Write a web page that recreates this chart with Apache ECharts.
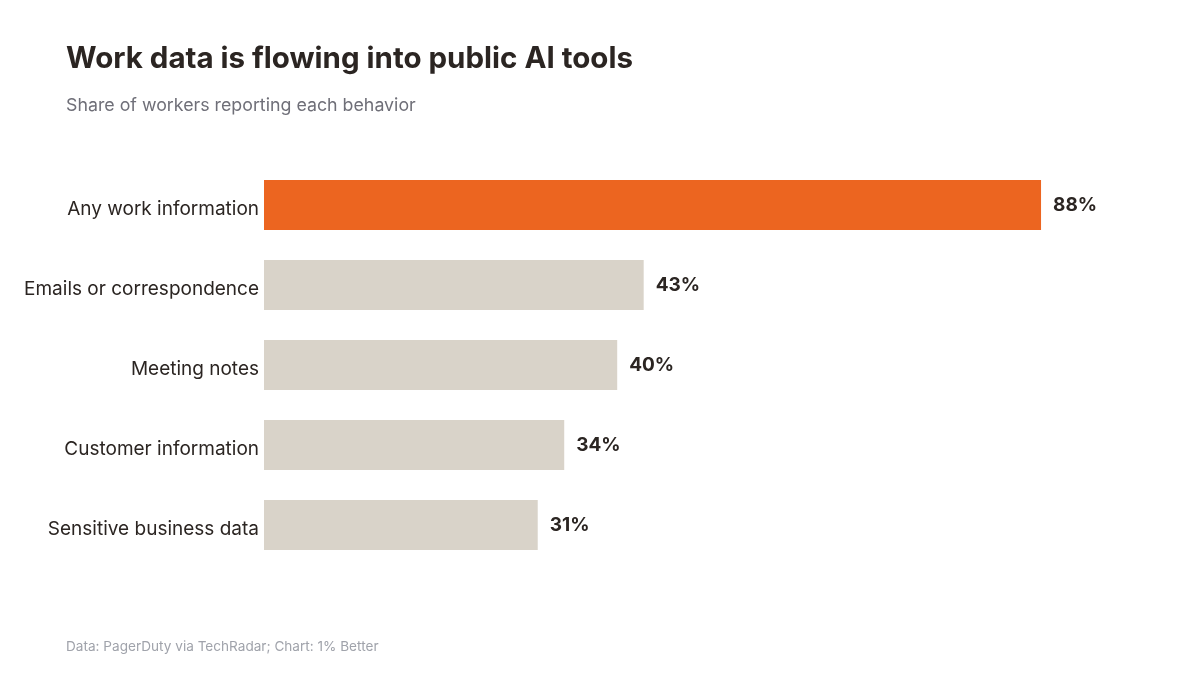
<!DOCTYPE html>
<html>
<head>
<meta charset="utf-8">
<script src="https://cdn.jsdelivr.net/npm/echarts@6/dist/echarts.min.js"></script>
<style>
html,body{margin:0;padding:0;background:#fff;}
#chart{width:1200px;height:675px;}
</style>
</head>
<body>
<div id="chart"></div>
<script>
const categories = ["Any work information","Emails or correspondence","Meeting notes","Customer information","Sensitive business data"];
const values = [88,43,40,34,31];
const highlightIndex = 0;

const FONT = "Inter, 'Noto Sans', sans-serif";
const chart = echarts.init(document.getElementById('chart'), null, {renderer:'canvas'});
chart.setOption({
  backgroundColor:'#ffffff',
  animation:false,
  title:[
    {text:'Work data is flowing into public AI tools', left:66, top:44, padding:0,
     textStyle:{fontFamily:FONT, fontSize:29.5, fontWeight:'bold', color:'#2b2522'}},
    {text:'Share of workers reporting each behavior', left:66, top:97, padding:0,
     textStyle:{fontFamily:FONT, fontSize:17.8, fontWeight:'normal', color:'#6f6f78'}},
    {text:'Data: PagerDuty via TechRadar; Chart: 1% Better', left:66, top:640, padding:0,
     textStyle:{fontFamily:FONT, fontSize:13.6, fontWeight:'normal', color:'#a0a3ab'}}
  ],
  grid:{left:264, right:53, top:165, bottom:110, containLabel:false},
  xAxis:{type:'value', min:0, max:100, show:false},
  yAxis:{type:'category', data:categories, inverse:true,
    axisLine:{show:false}, axisTick:{show:false},
    axisLabel:{margin:5, formatter:'{a|{value}}',
      rich:{a:{fontFamily:FONT, fontSize:19, color:'#2b2522', padding:[8,0,0,0]}}}},
  series:[{
    type:'bar',
    data:values.map((v,i)=>({value:v, itemStyle:{color: i===highlightIndex ? '#EC6520' : '#D9D3C9'}})),
    barCategoryGap:'37.5%',
    label:{show:true, position:'right', distance:12, formatter:'{c}%',
      fontFamily:FONT, fontSize:19, fontWeight:'bold', color:'#2b2522'}
  }]
});
</script>
</body>
</html>
